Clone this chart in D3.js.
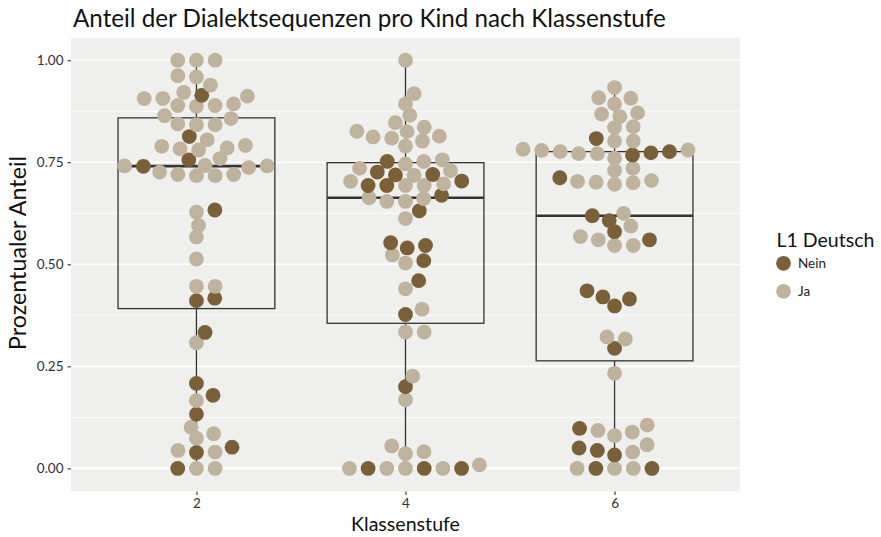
<!DOCTYPE html>
<html><head><meta charset="utf-8">
<script src="https://cdn.jsdelivr.net/npm/d3@7"></script>
<style>
body{margin:0;background:#fff}
text{font-family:Lato,"Open Sans",sans-serif}
</style>
</head><body>
<svg id="chart" width="881" height="537"></svg>
<script>
// ---------------- data ----------------
const categories = ["2", "4", "6"];
const yTicks = [0, 0.25, 0.5, 0.75, 1];
const yMinor = [0.125, 0.375, 0.625, 0.875];
const legendLabels = ["Nein", "Ja"];
const chartTitle = "Anteil der Dialektsequenzen pro Kind nach Klassenstufe";

// Klassenstufe 2
const valuesK2 = [0,0,0,0.039,0.040,0.044,0.052,0.074,0.085,0.101,0.133,0.166,0.179,0.208,0.308,0.333,
  0.411,0.417,0.446,0.446,0.513,0.567,0.595,0.628,0.633,
  0.717,0.717,0.720,0.720,0.726,0.737,0.740,0.741,0.741,0.742,0.756,0.759,
  0.780,0.783,0.785,0.789,0.791,0.805,0.813,0.842,0.842,0.844,0.857,0.864,
  0.887,0.889,0.889,0.893,0.906,0.906,0.912,0.914,0.921,0.939,0.959,0.962,1,1,1];
const l1K2 = ["J","J","N","N","J","J","N","J","J","J","N","J","N","N","J","N",
  "N","N","J","J","J","J","J","J","N",
  "J","J","J","J","J","J","N","J","J","J","N","J",
  "J","J","J","J","J","J","N","J","J","J","J","J",
  "J","J","J","J","J","J","J","N","J","J","J","J","J","J","J"];

// Klassenstufe 4
const valuesK4 = [0,0,0,0,0,0,0,0.0086,0.036,0.041,0.055,0.168,0.200,0.226,0.334,0.334,0.377,0.390,0.440,0.460,
  0.503,0.509,0.523,0.540,0.546,0.553,0.612,0.631,
  0.654,0.654,0.661,0.663,0.669,0.693,0.693,0.693,0.693,0.697,
  0.703,0.704,0.718,0.719,0.720,0.726,0.729,0.735,0.746,0.752,0.752,0.756,
  0.790,0.802,0.809,0.812,0.814,0.825,0.826,0.836,0.847,0.865,0.893,0.918,1];
const l1K4 = ["J","N","J","J","N","N","J","J","J","J","J","J","N","J","J","J","N","J","J","N",
  "J","N","J","N","N","N","J","N",
  "J","J","J","J","N","J","J","N","N","J",
  "J","N","J","N","N","N","J","J","J","J","N","J",
  "J","J","J","J","J","J","J","J","J","J","J","J","J"];

// Klassenstufe 6
const valuesK6 = [0,0,0,0,0,0.033,0.040,0.044,0.050,0.058,0.080,0.089,0.093,0.098,0.106,
  0.233,0.294,0.317,0.322,0.398,0.415,0.420,0.435,
  0.546,0.546,0.560,0.560,0.568,0.580,0.594,0.607,0.619,0.625,
  0.696,0.700,0.701,0.703,0.705,0.712,0.730,0.735,
  0.760,0.768,0.771,0.771,0.773,0.776,0.776,0.779,0.780,0.782,
  0.802,0.802,0.808,0.835,0.837,0.862,0.868,0.871,0.893,0.907,0.908,0.933];
const l1K6 = ["J","J","N","N","J","N","J","N","N","J","J","J","J","N","J",
  "J","N","J","J","N","N","N","N",
  "J","J","J","N","J","N","J","N","N","J",
  "J","J","J","J","J","N","J","J",
  "J","N","J","J","N","J","N","J","J","J",
  "J","J","N","J","J","J","J","J","J","J","J","J"];

const groupValues = [valuesK2, valuesK4, valuesK6];
const groupL1 = [l1K2, l1K4, l1K6];

// ---------------- layout / style ----------------
const panel = {left: 71, right: 740, top: 38, bottom: 491.5};
const colors = {N: "#7B5F36", J: "#BFB39D"};
const PANEL_BG = "#EFEFEE";
const R = 7.4;             // point radius
const SW_X = 18.7;         // swarm spacing across categories (px)
const SW_Y = 11.5;         // swarm spacing along value axis (px)

const svg = d3.select("#chart");

const x = d3.scalePoint().domain(categories).range([panel.left, panel.right]).padding(0.6);
const y = d3.scaleLinear().domain([0, 1]).range([468.4, 60.2]);

// panel
svg.append("rect").attr("x", panel.left).attr("y", panel.top)
  .attr("width", panel.right - panel.left).attr("height", panel.bottom - panel.top)
  .attr("fill", PANEL_BG);

// gridlines
svg.append("g").selectAll("line").data(yMinor).join("line")
  .attr("x1", panel.left).attr("x2", panel.right)
  .attr("y1", d => y(d)).attr("y2", d => y(d))
  .attr("stroke", "#fff").attr("stroke-width", 0.8);
svg.append("g").selectAll("line").data(yTicks).join("line")
  .attr("x1", panel.left).attr("x2", panel.right)
  .attr("y1", d => y(d)).attr("y2", d => y(d))
  .attr("stroke", "#fff").attr("stroke-width", 1.6);

// boxplots
const step = x.step();
const boxW = step * 0.75;
groupValues.forEach((vals, gi) => {
  const s = vals.slice().sort(d3.ascending);
  const q1 = d3.quantile(s, 0.25), med = d3.quantile(s, 0.5), q3 = d3.quantile(s, 0.75);
  const iqr = q3 - q1;
  const lo = d3.min(s.filter(v => v >= q1 - 1.5 * iqr));
  const hi = d3.max(s.filter(v => v <= q3 + 1.5 * iqr));
  const cx = x(categories[gi]);
  const g = svg.append("g").attr("stroke", "#333333").attr("fill", "none");
  g.append("line").attr("x1", cx).attr("x2", cx).attr("y1", y(q3)).attr("y2", y(hi)).attr("stroke-width", 1.3);
  g.append("line").attr("x1", cx).attr("x2", cx).attr("y1", y(q1)).attr("y2", y(lo)).attr("stroke-width", 1.3);
  g.append("rect").attr("x", cx - boxW / 2).attr("width", boxW)
    .attr("y", y(q3)).attr("height", y(q1) - y(q3)).attr("stroke-width", 1.3);
  g.append("line").attr("x1", cx - boxW / 2).attr("x2", cx + boxW / 2)
    .attr("y1", y(med)).attr("y2", y(med)).attr("stroke-width", 2.6);
});

// beeswarm (swarm algorithm, ascending priority)
function swarm(vals) {
  const pts = vals.map((v, i) => ({v, i, u: y(v) / SW_Y, o: 0}));
  const order = pts.slice().sort((a, b) => d3.ascending(a.v, b.v) || d3.ascending(a.i, b.i));
  const placed = [];
  order.forEach(p => {
    const pot = placed.filter(q => Math.abs(q.u - p.u) < 1);
    const cand = [0];
    const offs = pot.map(q => Math.sqrt(1 - (p.u - q.u) ** 2));
    pot.forEach((q, k) => cand.push(q.o + offs[k]));
    pot.forEach((q, k) => cand.push(q.o - offs[k]));
    let best = Infinity;
    cand.forEach(c => {
      const bad = pot.some(q => (p.u - q.u) ** 2 + (c - q.o) ** 2 < 0.999);
      if (!bad && Math.abs(c) < Math.abs(best)) best = c;
    });
    p.o = best;
    placed.push(p);
  });
  return pts;
}
groupValues.forEach((vals, gi) => {
  const pts = swarm(vals);
  const cx = x(categories[gi]);
  svg.append("g").selectAll("circle").data(pts).join("circle")
    .attr("cx", d => cx + d.o * SW_X).attr("cy", d => y(d.v)).attr("r", R)
    .attr("fill", d => colors[groupL1[gi][d.i]]);
});

// axes
const yAxis = svg.append("g").attr("transform", `translate(${panel.left},0)`)
  .call(d3.axisLeft(y).tickValues(yTicks).tickFormat(d3.format(".2f")).tickSize(3.5).tickPadding(4));
const xAxis = svg.append("g").attr("transform", `translate(0,${panel.bottom})`)
  .call(d3.axisBottom(x).tickSize(3.5).tickPadding(3));
[yAxis, xAxis].forEach(a => {
  a.select(".domain").remove();
  a.selectAll(".tick line").attr("stroke", "#333").attr("stroke-width", 1.1);
  a.selectAll(".tick text").attr("fill", "#303030").attr("font-size", 13.5)
    .attr("font-family", "Lato, 'Open Sans', sans-serif");
});

function fit(sel, target) {
  const len = sel.node().getComputedTextLength();
  const fs = parseFloat(sel.attr("font-size"));
  sel.attr("font-size", fs * target / len);
  return sel;
}

// titles
fit(svg.append("text").attr("x", 73).attr("y", 27).attr("font-size", 22).attr("fill", "#111")
  .text(chartTitle), 593);
fit(svg.append("text").attr("x", (panel.left + panel.right) / 2).attr("y", 530.5)
  .attr("text-anchor", "middle").attr("font-size", 18).attr("fill", "#111").text("Klassenstufe"), 109);
fit(svg.append("text").attr("transform", `translate(26,253) rotate(-90)`)
  .attr("text-anchor", "middle").attr("font-size", 18).attr("fill", "#111").text("Prozentualer Anteil"), 194);

// legend
const leg = svg.append("g");
fit(leg.append("text").attr("x", 776.5).attr("y", 247.3).attr("font-size", 18).attr("fill", "#111")
  .text("L1 Deutsch"), 98);
const legKeys = ["N", "J"];
legKeys.forEach((k, i) => {
  const cy = 263.3 + i * 28;
  leg.append("circle").attr("cx", 783.5).attr("cy", cy).attr("r", R).attr("fill", colors[k]);
  leg.append("text").attr("x", 798).attr("y", cy + 4.5).attr("font-size", 13.5).attr("fill", "#222")
    .text(legendLabels[i]);
});
</script>
</body></html>
